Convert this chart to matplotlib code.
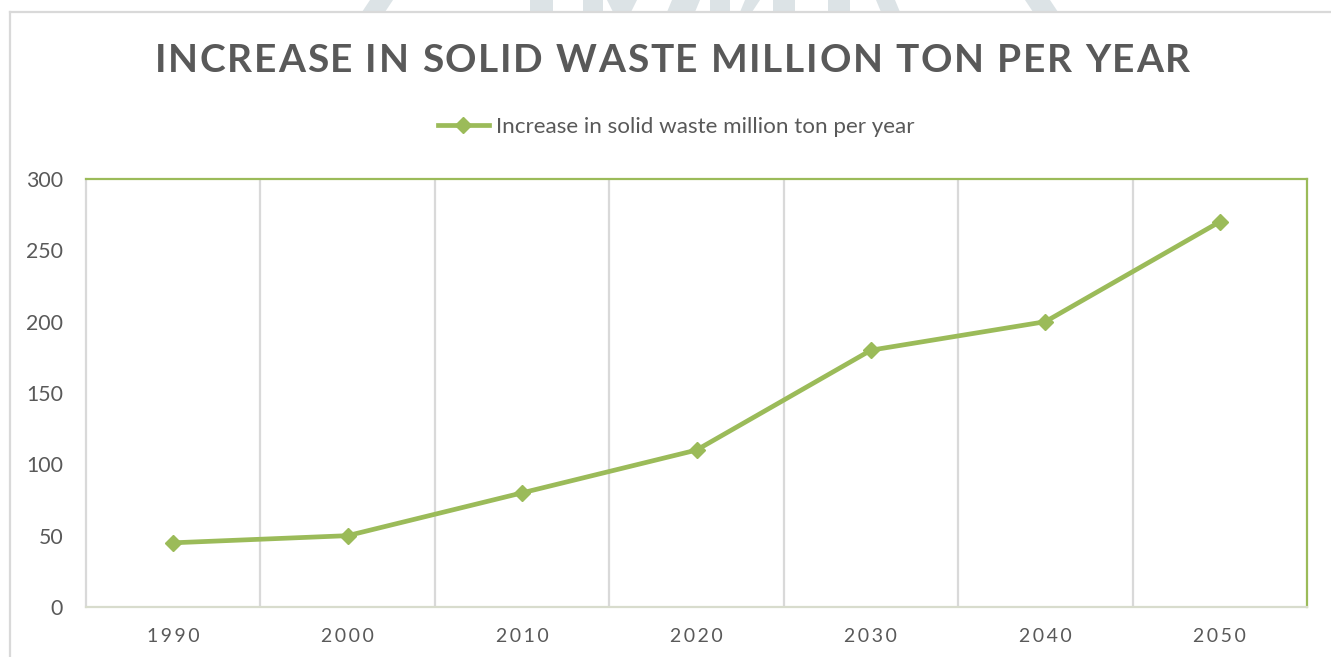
import matplotlib
matplotlib.use("Agg")
import matplotlib.pyplot as plt
from matplotlib.lines import Line2D
from matplotlib.patches import Polygon

# Projected increase in solid waste (million ton per year)
years = ["1990", "2000", "2010", "2020", "2030", "2040", "2050"]
waste = [45, 50, 80, 110, 180, 200, 270]
y_ticks = [0, 50, 100, 150, 200, 250, 300]

GREEN = "#9bbb59"
TEXT = "#595959"
GRID = "#d9d9d9"
W, H = 1331, 657

plt.rcParams["font.family"] = ["Lato", "DejaVu Sans"]

fig = plt.figure(figsize=(W / 100, H / 100), dpi=100)
fig.patch.set_facecolor("white")


def px(x, y):
    """Pixel position (top-left origin) -> figure fraction."""
    return x / W, 1 - y / H


def tracked_text(fig, s, x0, x1, y, **kw):
    """Draw s letter by letter so that it spans pixels x0..x1."""
    r = fig.canvas.get_renderer()
    widths = []
    for ch in s:
        t = fig.text(0, 0, ch if ch != " " else "n", **kw)
        w = t.get_window_extent(r).width
        if ch == " ":
            w *= 0.45
        widths.append(w)
        t.remove()
    gap = ((x1 - x0) - sum(widths)) / (len(s) - 1)
    x = x0
    for ch, w in zip(s, widths):
        if ch != " ":
            fig.text(x / W, 1 - y / H, ch, ha="left", va="center", **kw)
        x += w + gap


# faint page watermark peeking above the chart frame
shapes = [
    [(370, 0), (393, 0), (385, 12), (362, 12)],
    [(530, 0), (553, 0), (553, 12), (530, 12)],
    [(583, 0), (603, 0), (603, 12), (583, 12)],
    [(607, 0), (622, 0), (628, 12), (613, 12)],
    [(622, 0), (637, 0), (631, 12), (616, 12)],
    [(672, 0), (700, 0), (695, 12), (667, 12)],
    [(710, 0), (730, 0), (730, 12), (710, 12)],
    [(745, 0), (760, 0), (752, 12), (740, 12)],
    [(773, 0), (795, 0), (795, 12), (773, 12)],
    [(828, 0), (850, 0), (850, 12), (828, 12)],
    [(876, 0), (895, 0), (900, 12), (881, 12)],
    [(1025, 0), (1050, 0), (1058, 12), (1033, 12)],
]
for s in shapes:
    fig.patches.append(Polygon([px(*p) for p in s], closed=True, transform=fig.transFigure,
                               facecolor="#dce3e6", edgecolor="none", zorder=0))

# chart frame (left and top edges)
fig.add_artist(Line2D([px(10, 12)[0], px(1330, 12)[0]], [px(10, 12)[1]] * 2,
                      color=GRID, lw=1.6, transform=fig.transFigure))
fig.add_artist(Line2D([px(10, 12)[0]] * 2, [px(10, 12)[1], 0],
                      color=GRID, lw=1.6, transform=fig.transFigure))

ax = fig.add_axes([86 / W, 50 / H, (1307 - 86) / W, (607 - 179) / H])
x = range(len(years))
ax.plot(x, waste, color=GREEN, lw=3.4, marker="D", markersize=8.5,
        label="Increase in solid waste million ton per year", zorder=3)

ax.set_xlim(-0.5, len(years) - 0.5)
ax.set_ylim(0, 300)
ax.set_yticks(y_ticks)
ax.set_yticklabels([str(v) for v in y_ticks])
ax.set_xticks(list(x))
ax.set_xticklabels(["\u2009".join(y) for y in years])
ax.tick_params(axis="both", length=0, colors=TEXT)
ax.tick_params(axis="y", pad=16.5, labelsize=15.3)
ax.tick_params(axis="x", pad=15, labelsize=14)

# vertical separators between categories
for b in range(1, len(years)):
    ax.axvline(b - 0.5, color=GRID, lw=1.6, zorder=1)

for side in ("top", "right"):
    ax.spines[side].set_color(GREEN)
    ax.spines[side].set_linewidth(1.6)
ax.spines["left"].set_color(GRID)
ax.spines["left"].set_linewidth(1.6)
ax.spines["bottom"].set_color("#d8dccd")
ax.spines["bottom"].set_linewidth(1.6)

tracked_text(fig, "INCREASE IN SOLID WASTE MILLION TON PER YEAR", 155, 1190, 61,
             fontsize=28, fontweight="bold", color=TEXT)

fig.legend(loc="center", bbox_to_anchor=(676 / W, 1 - 127 / H), frameon=False,
           fontsize=16.1, labelcolor=TEXT, handlelength=2.3, handletextpad=0.3)

fig.savefig("out.png", dpi=100)
